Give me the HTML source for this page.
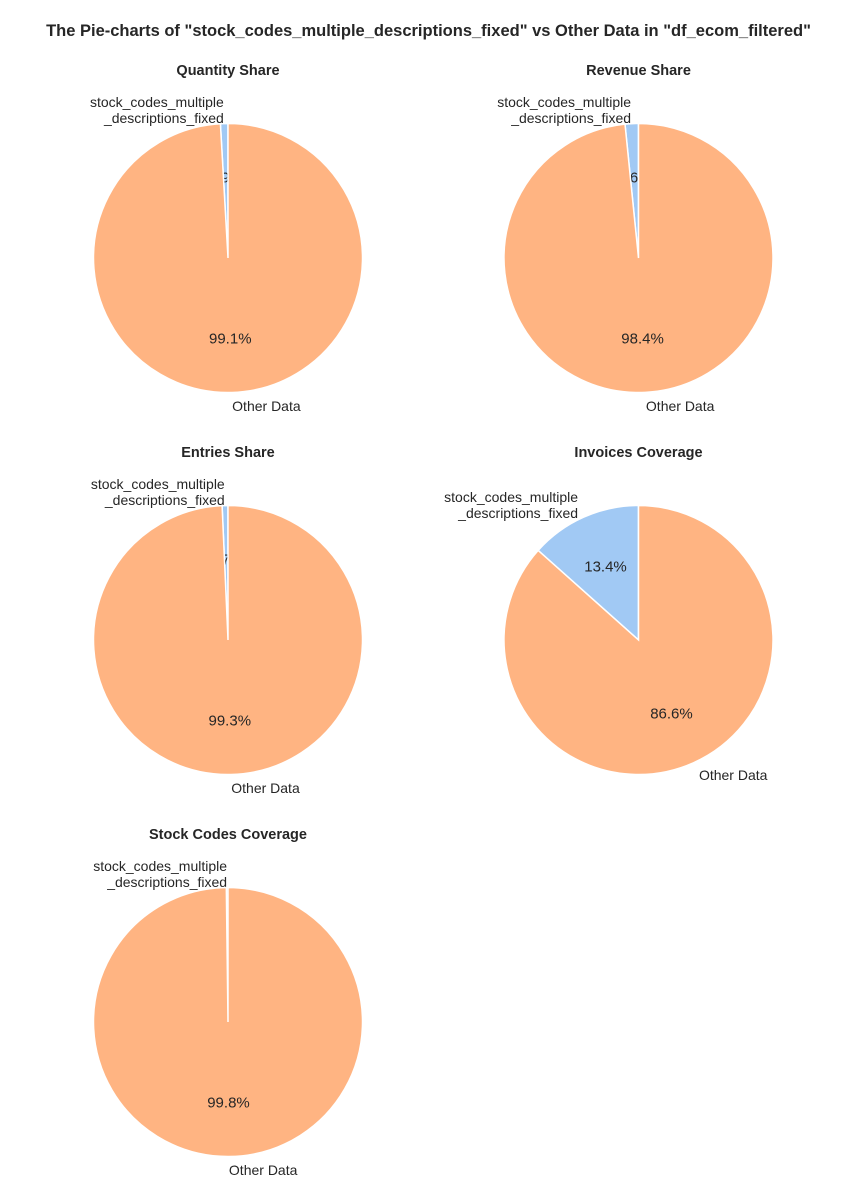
<!DOCTYPE html>
<html><head><meta charset="utf-8">
<style>
body{margin:0;background:#fff;}
svg{display:block;font-family:"Liberation Sans",sans-serif;fill:#262626;}
</style></head>
<body>
<svg id="chart" width="857" height="1201" viewBox="0 0 857 1201">
<text x="428.5" y="36" text-anchor="middle" font-size="16.5" font-weight="bold">The Pie-charts of "stock_codes_multiple_descriptions_fixed" vs Other Data in "df_ecom_filtered"</text>
</svg>
<script>
const titles = ["Quantity Share","Revenue Share","Entries Share","Invoices Coverage","Stock Codes Coverage"];
const sharePct = [0.9, 1.6, 0.7, 13.4, 0.2];
const labels = ["stock_codes_multiple\n_descriptions_fixed","Other Data"];
const colors = ["#a1c9f4","#ffb482"];
const centers = [[228,258],[638.5,258],[228,640],[638.5,640],[228,1022]];
const R = 134.5;
const svg = document.getElementById('chart');
const NS = "http://www.w3.org/2000/svg";
function mk(tag, attrs){const e=document.createElementNS(NS,tag);for(const k in attrs)e.setAttribute(k,attrs[k]);return e;}
function pt(cx,cy,r,deg){const a=deg*Math.PI/180;return [cx+r*Math.cos(a), cy-r*Math.sin(a)];}
titles.forEach((t,i)=>{
  const [cx,cy]=centers[i];
  const g=mk('g',{});
  
  
  svg.appendChild(g);
  const tt=mk('text',{x:cx,y:cy-183,'text-anchor':'middle','font-size':'14.5','font-weight':'bold'});
  
  
  tt.textContent=t;g.appendChild(tt);
  const vals=[sharePct[i],100-sharePct[i]];
  let start=90;
  vals.forEach((v,j)=>{
    const sweep=v*3.6, end=start+sweep;
    const [x1,y1]=pt(cx,cy,R,start),[x2,y2]=pt(cx,cy,R,end);
    const p=mk('path',{d:`M${cx},${cy} L${x1},${y1} A${R},${R} 0 ${sweep>180?1:0} 0 ${x2},${y2} Z`,fill:colors[j],stroke:'#fff','stroke-width':'1.5'});
    
    
    g.appendChild(p);
    const mid=start+sweep/2;
    const [px,py]=pt(cx,cy,R*0.6,mid);
    const pctT=mk('text',{x:px,y:py+5,'text-anchor':'middle','font-size':'15'});
    
    
    pctT.textContent=v.toFixed(1)+'%';g.appendChild(pctT);
    const [lx,ly]=pt(cx,cy,R*1.1,mid);
    const lines=labels[j].split('\n');
    const anchor=lx<cx?'end':'start';
    const lt=mk('text',{'text-anchor':anchor,'font-size':'14'});
    
    
    lines.forEach((ln,k)=>{
      const ts=mk('tspan',{x:lx,y:ly+5+(k-(lines.length-1)/2)*16});
      ts.textContent=ln;lt.appendChild(ts);
    });
    g.appendChild(lt);
    start=end;
  });
});
</script>
</body></html>
